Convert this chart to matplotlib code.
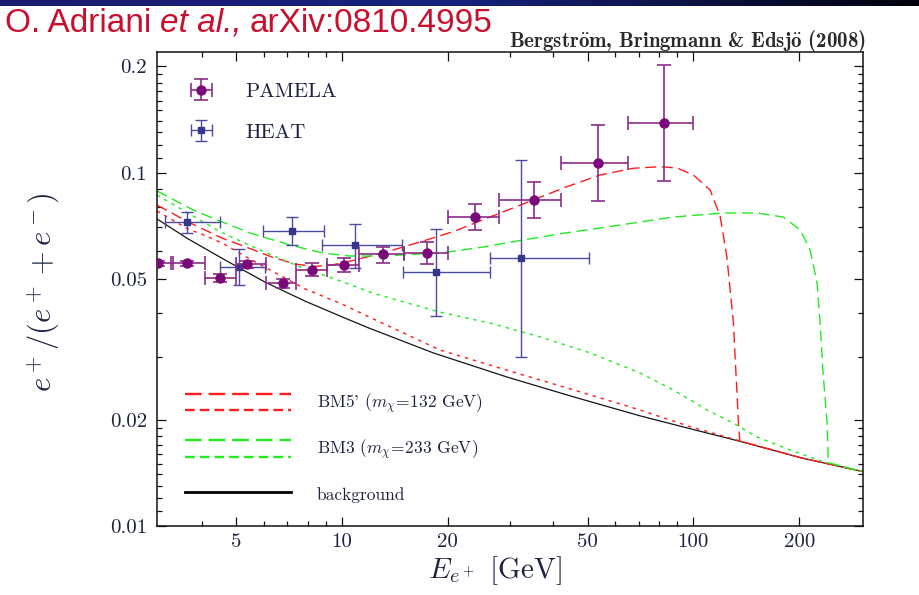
import matplotlib
matplotlib.use('Agg')
import matplotlib.pyplot as plt
import numpy as np
from matplotlib.lines import Line2D
from matplotlib.legend_handler import HandlerBase
from matplotlib.colors import LinearSegmentedColormap
from matplotlib.ticker import FixedLocator, FixedFormatter, NullFormatter

plt.rcParams['mathtext.fontset'] = 'cm'
plt.rcParams['font.family'] = ['cmr10', 'DejaVu Serif']
plt.rcParams['lines.scale_dashes'] = False
plt.rcParams['axes.unicode_minus'] = False

# PAMELA positron fraction: bin centre, bin edges, value, errors
pamela_E = [3.0, 3.62, 4.49, 5.39, 6.79, 8.25, 10.15, 13.1, 17.5, 23.9, 35.1, 53.7, 82.7]
pamela_lo = [2.7, 3.26, 4.09, 5.0, 6.1, 7.4, 9.1, 11.2, 15.0, 20.0, 28.0, 42.0, 65.0]
pamela_hi = [3.3, 4.09, 5.0, 6.1, 7.4, 9.1, 11.2, 15.0, 20.0, 28.0, 42.0, 65.0, 100.0]
pamela_frac = [0.0554, 0.0554, 0.0504, 0.0551, 0.0486, 0.0530, 0.0548, 0.0587, 0.0594, 0.0751, 0.0837, 0.1063, 0.1380]
pamela_up = [0.0010, 0.0010, 0.0012, 0.0012, 0.0015, 0.0024, 0.0024, 0.0031, 0.0042, 0.0063, 0.0102, 0.0302, 0.0636]
pamela_dn = [0.0010, 0.0010, 0.0012, 0.0012, 0.0015, 0.0020, 0.0025, 0.0031, 0.0044, 0.0063, 0.0094, 0.0232, 0.0433]

# HEAT
heat_E = [3.62, 5.11, 7.20, 10.9, 18.5, 32.4]
heat_lo = [3.14, 4.51, 5.96, 8.77, 14.9, 26.4]
heat_hi = [4.51, 6.05, 8.87, 14.8, 26.4, 50.4]
heat_frac = [0.0727, 0.0542, 0.0684, 0.0624, 0.0522, 0.0572]
heat_up = [0.0049, 0.0066, 0.0067, 0.0091, 0.0171, 0.0514]
heat_dn = [0.0050, 0.0060, 0.0060, 0.0088, 0.0130, 0.0271]

# background
bg_E = [2.98, 3.65, 4.57, 5.07, 6.05, 7.86, 10.0, 11.8, 18.2, 29.5, 45.6, 70.5, 100, 136, 202, 303]
bg_frac = [0.0740, 0.0650, 0.0572, 0.0540, 0.0490, 0.0433, 0.0391, 0.0365, 0.0309, 0.0264, 0.0232, 0.0205,
           0.01875, 0.01735, 0.01560, 0.01426]

# BM5' (m_chi = 132 GeV), dashed and dotted
bm5_E = [2.98, 3.66, 4.56, 5.43, 6.33, 7.37, 8.40, 9.37, 10.9, 13.5, 16.9, 21.0, 24.7, 29.5, 35.0, 43.7,
         54.3, 67.4, 80.4, 89.9, 100, 111.6, 119.1, 124.5, 127.2, 130.0, 131.4, 132.9, 134.3, 135.5, 202, 303]
bm5_frac = [0.0810, 0.0725, 0.0653, 0.0612, 0.0577, 0.0551, 0.0543, 0.0548, 0.0566, 0.0598, 0.0639, 0.0684,
            0.0730, 0.0782, 0.0837, 0.0913, 0.0985, 0.1029, 0.1040, 0.1031, 0.0985, 0.0893, 0.0754, 0.0578,
            0.0466, 0.0375, 0.0301, 0.0243, 0.01953, 0.01740, 0.01560, 0.01426]
bm5b_E = [2.98, 3.65, 4.09, 4.57, 5.67, 7.86, 10.0, 11.8, 19.0, 29.5, 45.5, 70.5, 97.9, 136, 202, 303]
bm5b_frac = [0.0779, 0.0693, 0.0664, 0.0632, 0.0559, 0.0469, 0.0425, 0.0393, 0.0315, 0.0276, 0.0243, 0.0213,
             0.0191, 0.01740, 0.01560, 0.01426]

# BM3 (m_chi = 233 GeV), dashed and dotted
bm3_E = [2.98, 3.78, 4.42, 5.48, 7.13, 8.85, 10.55, 13.28, 16.7, 19.93, 25.23, 32.79, 43.17, 56.83, 87.55,
         121.5, 151.8, 180.0, 201.2, 214.8, 224.8, 229.3, 233.8, 240.0, 242.1, 303]
bm3_frac = [0.0888, 0.0784, 0.0735, 0.0675, 0.0624, 0.0592, 0.0581, 0.0581, 0.0589, 0.0596, 0.0616, 0.0645,
            0.0675, 0.0702, 0.0749, 0.0769, 0.0769, 0.0749, 0.0689, 0.0604, 0.0487, 0.0375, 0.0271, 0.01956,
            0.0151, 0.01426]
bm3b_E = [2.98, 3.65, 4.51, 6.13, 7.61, 9.89, 12.27, 15.34, 19.04, 26.41, 36.64, 50.83, 70.54, 87.5, 109.4,
          129.7, 151.8, 188.4, 233.8, 303]
bm3b_frac = [0.0865, 0.0769, 0.0680, 0.0592, 0.0541, 0.0494, 0.0456, 0.0428, 0.0403, 0.0375, 0.0343, 0.0309,
             0.0271, 0.0243, 0.0213, 0.01956, 0.01786, 0.01641, 0.01520, 0.01426]

x_major = [5, 10, 20, 50, 100, 200]
x_labels = ['5', '10', '20', '50', '100', '200']
x_minor = [4, 6, 7, 8, 9, 30, 40, 60, 70, 80, 90]
y_major = [0.01, 0.02, 0.05, 0.1, 0.2]
y_labels = ['0.01', '0.02', '0.05', '0.1', '0.2']
y_minor = [0.011, 0.012, 0.013, 0.014, 0.015, 0.016, 0.017, 0.018, 0.019, 0.03, 0.04,
           0.06, 0.07, 0.08, 0.09, 0.11, 0.12, 0.13, 0.14, 0.15, 0.16, 0.17, 0.18, 0.19]

TXT = '#1d2340'
RED = '#ff1c1c'
GREEN = '#20ec20'
TITLE_RED = '#c8102e'


class PairHandler(HandlerBase):
    """two line styles stacked in one legend row"""
    def create_artists(self, legend, orig_handle, xdescent, ydescent,
                       width, height, fontsize, trans):
        yc = height / 2 - ydescent
        arts = []
        for src, dy in zip(orig_handle, (5.8, -5.8)):
            ln = Line2D([-xdescent, -xdescent + width], [yc + dy, yc + dy])
            ln.update_from(src)
            ln.set_transform(trans)
            arts.append(ln)
        return arts


fig = plt.figure(figsize=(9.19, 5.95), dpi=100)

# slide header band
band = fig.add_axes([0, 1 - 6 / 595, 1, 6 / 595])
band.imshow(np.linspace(0, 1, 256)[None, :], aspect='auto',
            cmap=LinearSegmentedColormap.from_list('hdr', ['#1b1b6e', '#17227c', '#02020c']))
band.axis('off')

ax = fig.add_axes([0.1708, 0.1160, 0.7679, 0.7966])

ax.plot(bg_E, bg_frac, color='#151515', lw=0.9, zorder=2)
ax.plot(bm5b_E, bm5b_frac, color=RED, lw=1.0, dashes=(2.5, 3.5), zorder=2)
ax.plot(bm5_E, bm5_frac, color=RED, lw=1.0, dashes=(8, 4), zorder=2)
ax.plot(bm3b_E, bm3b_frac, color=GREEN, lw=1.0, dashes=(2.5, 3.5), zorder=2)
ax.plot(bm3_E, bm3_frac, color=GREEN, lw=1.0, dashes=(8, 4), zorder=2)

pam = ax.errorbar(pamela_E, pamela_frac,
                  xerr=[np.subtract(pamela_E, pamela_lo), np.subtract(pamela_hi, pamela_E)],
                  yerr=[pamela_dn, pamela_up], fmt='o', ms=6.5, color='#7a0a7a',
                  ecolor='#8a2c8a', elinewidth=1.2, capsize=5, capthick=1.2, zorder=4)
heat = ax.errorbar(heat_E, heat_frac,
                   xerr=[np.subtract(heat_E, heat_lo), np.subtract(heat_hi, heat_E)],
                   yerr=[heat_dn, heat_up], fmt='s', ms=4.5, color='#363690',
                   ecolor='#4a4aa0', elinewidth=1.0, capsize=4.5, capthick=1.0, zorder=3)

ax.set_xscale('log')
ax.set_yscale('log')
ax.set_xlim(2.98, 303)
ax.set_ylim(0.01, 0.2196)

ax.xaxis.set_major_locator(FixedLocator(x_major))
ax.xaxis.set_major_formatter(FixedFormatter(x_labels))
ax.xaxis.set_minor_locator(FixedLocator(x_minor))
ax.xaxis.set_minor_formatter(NullFormatter())
ax.yaxis.set_major_locator(FixedLocator(y_major))
ax.yaxis.set_major_formatter(FixedFormatter(y_labels))
ax.yaxis.set_minor_locator(FixedLocator(y_minor))
ax.yaxis.set_minor_formatter(NullFormatter())

ax.tick_params(which='both', direction='in', top=True, right=True, width=0.9, color='#111111')
ax.tick_params(which='major', length=6.5, labelsize=15, labelcolor=TXT)
ax.tick_params(which='minor', length=3.5)
ax.tick_params(axis='y', which='major', pad=7)
ax.tick_params(axis='x', which='major', pad=5)
for sp in ax.spines.values():
    sp.set_linewidth(1.1)
    sp.set_color('#111111')

ax.set_xlabel(r'$E_{e^+}$ [GeV]', fontsize=21, color=TXT)
ax.xaxis.set_label_coords(0.479, -0.060)
ax.set_ylabel(r'$e^+/(e^+ + e^-)$', fontsize=22, color=TXT)
ax.yaxis.set_label_coords(-0.135, 0.494)

leg1 = ax.legend([pam, heat], ['PAMELA', 'HEAT'], loc='upper left', bbox_to_anchor=(0.0397, 0.936),
                 frameon=False, fontsize=15, handlelength=1.55, handletextpad=1.35,
                 labelspacing=1.06, borderpad=0, borderaxespad=0, labelcolor=TXT)
ax.add_artist(leg1)

bm5_key = (Line2D([], [], color=RED, lw=1.7, dashes=(12, 5)),
           Line2D([], [], color=RED, lw=1.7, dashes=(7, 3.6)))
bm3_key = (Line2D([], [], color=GREEN, lw=1.7, dashes=(12, 5)),
           Line2D([], [], color=GREEN, lw=1.7, dashes=(7, 3.6)))
bg_key = Line2D([], [], color='black', lw=2.0)
ax.legend([bm5_key, bm3_key, bg_key],
          [r"BM5' ($m_\chi\!=\!132$ GeV)", r"BM3 ($m_\chi\!=\!233$ GeV)", 'background'],
          handler_map={tuple: PairHandler()}, loc='upper left', bbox_to_anchor=(0.0397, 0.283),
          frameon=False, fontsize=12.5, handlelength=6.1, handleheight=1.4, handletextpad=1.48,
          labelspacing=1.27, borderpad=0, borderaxespad=0, labelcolor=TXT)

# reference line above the frame
fig.text(866 / 919, 1 - 47 / 595,
         r'Bergstr$\ddot{\mathbf{o}}$m, Bringmann & Edsj$\ddot{\mathbf{o}}$ (2008)',
         ha='right', va='baseline', fontsize=15, color='#2a2a2a', family=['cmb10', 'DejaVu Serif'])

title_font = ['Liberation Sans', 'DejaVu Sans']
t1 = fig.text(5 / 919, 1 - 32 / 595, 'O. Adriani', color=TITLE_RED, fontsize=24,
              family=title_font, va='baseline')
t2 = ax.annotate('et al.,', xy=(1, 0), xycoords=t1, xytext=(6, 0), textcoords='offset points',
                 va='bottom', ha='left', color=TITLE_RED, fontsize=24, family=title_font,
                 style='italic')
ax.annotate('arXiv:0810.4995', xy=(1, 0), xycoords=t2, xytext=(6, 0), textcoords='offset points',
            va='bottom', ha='left', color=TITLE_RED, fontsize=24, family=title_font)

fig.savefig('out.png', dpi=100)
